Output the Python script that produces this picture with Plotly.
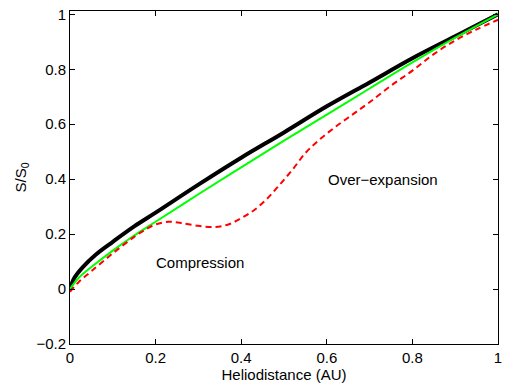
import plotly.graph_objects as go

# Black (thick) curve
x_black = [0, 0.01, 0.03, 0.06, 0.1, 0.15, 0.2, 0.3, 0.4, 0.5, 0.6, 0.7, 0.8, 0.9, 1.0]
y_black = [0.0, 0.04, 0.08, 0.125, 0.172, 0.228, 0.278, 0.38, 0.478, 0.57, 0.665, 0.752, 0.84, 0.92, 1.0]

# Green curve
x_green = [0, 0.02, 0.05, 0.1, 0.15, 0.2, 0.3, 0.4, 0.5, 0.6, 0.7, 0.8, 0.9, 1.0]
y_green = [0.0, 0.04, 0.08, 0.14, 0.195, 0.245, 0.345, 0.443, 0.54, 0.635, 0.73, 0.825, 0.915, 1.0]

# Red dashed curve
x_red = [0, 0.02, 0.05, 0.1, 0.15, 0.18, 0.2, 0.23, 0.26, 0.3, 0.34, 0.37, 0.4, 0.43, 0.46,
         0.49, 0.52, 0.55, 0.58, 0.62, 0.66, 0.7, 0.75, 0.8, 0.85, 0.9, 0.95, 1.0]
y_red = [-0.01, 0.025, 0.065, 0.13, 0.19, 0.22, 0.235, 0.245, 0.24, 0.23, 0.226, 0.235, 0.258, 0.287, 0.328,
         0.38, 0.435, 0.495, 0.54, 0.59, 0.635, 0.68, 0.74, 0.795, 0.855, 0.905, 0.945, 0.98]

x_ticks = [0, 0.2, 0.4, 0.6, 0.8, 1]
x_ticklabels = ["0", "0.2", "0.4", "0.6", "0.8", "1"]
y_ticks = [-0.2, 0, 0.2, 0.4, 0.6, 0.8, 1]
y_ticklabels = ["\u22120.2", "0", "0.2", "0.4", "0.6", "0.8", "1"]

font_family = "Liberation Sans, Arial, sans-serif"
fs = 15

fig = go.Figure()
fig.add_trace(go.Scatter(x=x_black, y=y_black, mode="lines", line=dict(color="black", width=4, shape="spline")))
fig.add_trace(go.Scatter(x=x_green, y=y_green, mode="lines", line=dict(color="#00ff00", width=2, shape="spline")))
fig.add_trace(go.Scatter(x=x_red, y=y_red, mode="lines",
                         line=dict(color="#ff0000", width=2, dash="6px,4px", shape="spline")))

fig.add_annotation(x=0.304, y=0.097, text="Compression", showarrow=False,
                   font=dict(size=fs, color="black", family=font_family))
fig.add_annotation(x=0.731, y=0.40, text="Over\u2212expansion", showarrow=False,
                   font=dict(size=fs, color="black", family=font_family))

axis_common = dict(showgrid=False, zeroline=False, showline=True, linecolor="black", linewidth=1,
                   mirror="ticks", ticks="inside", ticklen=5, tickcolor="black",
                   tickfont=dict(size=fs, color="black", family=font_family))

fig.update_xaxes(range=[0, 1], tickvals=x_ticks, ticktext=x_ticklabels,
                 title=dict(text="Heliodistance (AU)", font=dict(size=fs, color="black", family=font_family), standoff=0),
                 **axis_common)
fig.update_yaxes(range=[-0.2, 1.012], tickvals=y_ticks, ticktext=y_ticklabels,
                 title=dict(text="S/S<sub>0</sub>", font=dict(size=fs, color="black", family=font_family), standoff=6),
                 **axis_common)

fig.update_layout(width=510, height=385, margin=dict(l=70, r=12, t=6, b=41),
                  paper_bgcolor="white", plot_bgcolor="white", showlegend=False,
                  font=dict(family=font_family, color="black"))

fig.write_html("out.html")
